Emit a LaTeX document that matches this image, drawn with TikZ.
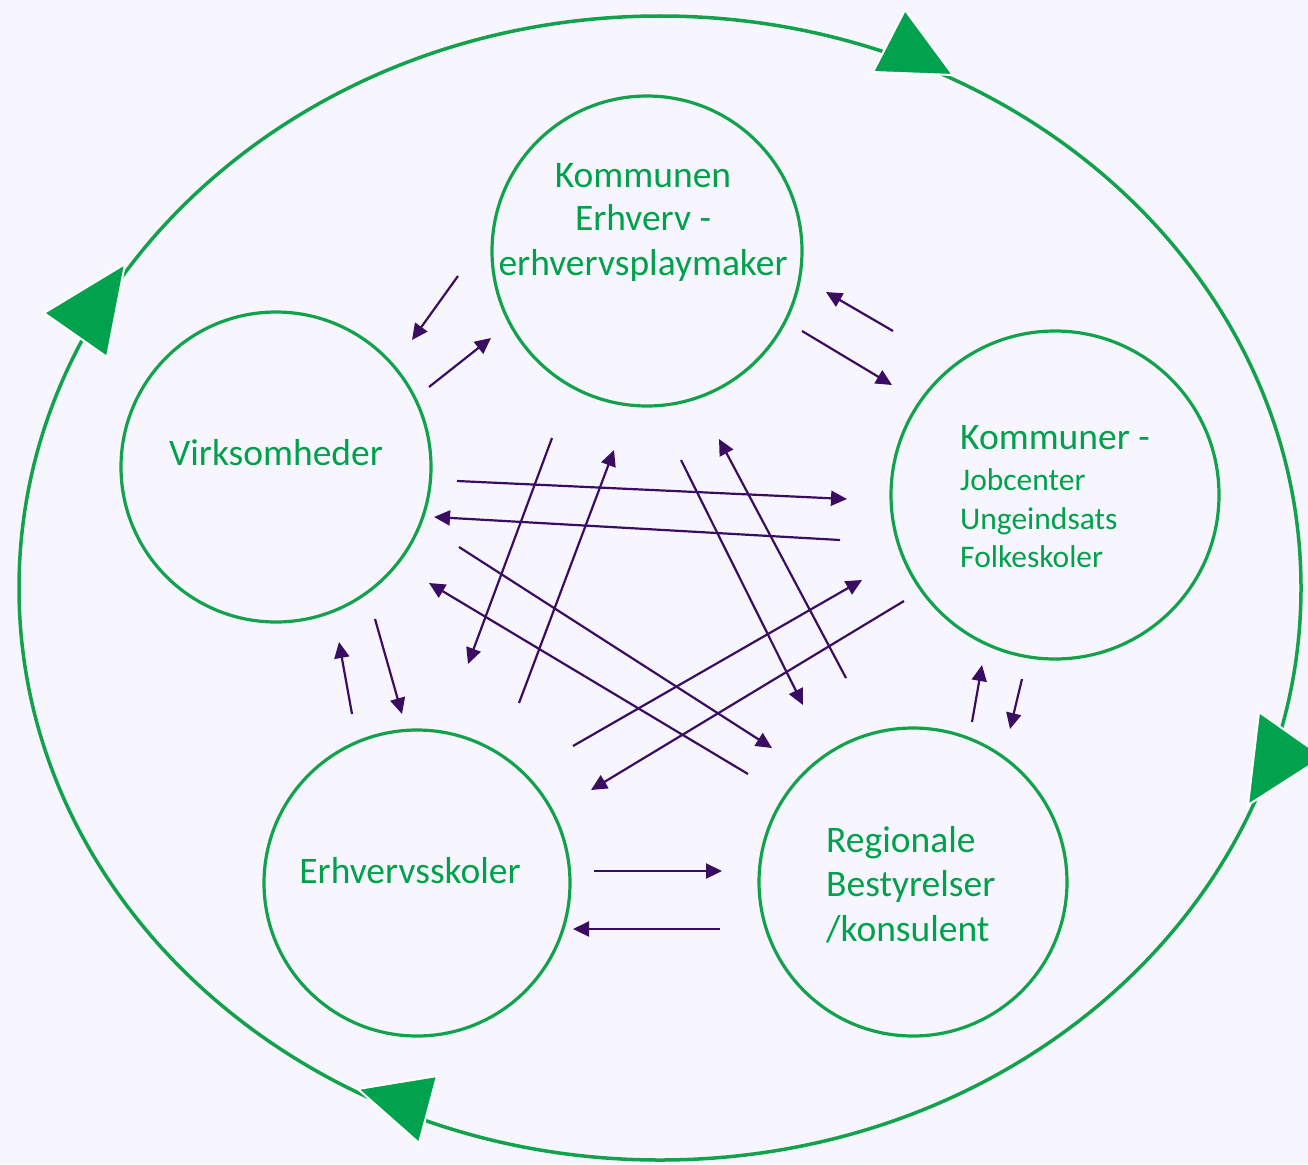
\documentclass[tikz,border=0pt]{standalone}
\usepackage{fontspec}
\setmainfont{Carlito}
\usetikzlibrary{arrows.meta}
\definecolor{bgc}{HTML}{F7F6FE}
\definecolor{grn}{HTML}{00A14B}
\definecolor{grnline}{HTML}{12A24C}
\definecolor{trig}{HTML}{00A24D}
\definecolor{purp}{HTML}{3A0C62}
\tikzset{
  ring/.style={draw=grnline, line width=3.2pt, circle, inner sep=0pt},
  lbl/.style={text=grn, inner sep=0pt, font=\fontsize{37.5}{44}\selectfont},
  lblsmall/.style={text=grn, inner sep=0pt, font=\fontsize{31.5}{38}\selectfont},
  flow/.style={draw=purp, line width=2.2pt, -{Triangle[length=16pt,width=15pt]}},
  bigtri/.style={fill=trig, draw=white, line width=2pt, line join=miter},
}
\begin{document}
\begin{tikzpicture}[x=1pt,y=-1pt]
\fill[bgc] (0,0) rectangle (1308,1164);
\useasboundingbox (0,0) rectangle (1308,1164);

% outer cycle
\draw[grnline, line width=3.5pt] (660,588) ellipse [x radius=641, y radius=572];
\filldraw[bigtri] (905,10) -- (873,72) -- (953,75) -- cycle;
\filldraw[bigtri] (125,264) -- (44,313) -- (107,357) -- cycle;
\filldraw[bigtri] (1259,712) -- (1323,757) -- (1248,805) -- cycle;
\filldraw[bigtri] (358,1089) -- (437,1076) -- (419,1143) -- cycle;

% circles
\node[ring, minimum size=310pt] (kom) at (647,251) {};
\node[ring, minimum size=310pt] (virk) at (276,467) {};
\node[ring, minimum size=328pt] (job) at (1055,495) {};
\node[ring, minimum size=306pt] (skol) at (417,883) {};
\node[ring, minimum size=308pt] (reg) at (913,882) {};

% texts
\node[lbl, anchor=base] (komA) at (643,187) {Kommunen};
\node[lbl, anchor=base] (komB) at (643,230) {Erhverv -};
\node[lbl, anchor=base] (komC) at (643,275) {erhvervsplaymaker};
\node[lbl, anchor=base] (virkT) at (276,465) {Virksomheder};
\node[lbl, anchor=base] (skolT) at (410,883) {Erhvervsskoler};
\node[lbl, anchor=base west] (regA) at (826,852) {Regionale};
\node[lbl, anchor=base west] (regB) at (826,896) {Bestyrelser};
\node[lbl, anchor=base west] (regC) at (826,941) {/konsulent};
\node[lbl, anchor=base west] (jobA) at (960,449) {Kommuner -};
\node[lblsmall, anchor=base west] (jobB) at (960,490) {Jobcenter};
\node[lblsmall, anchor=base west] (jobC) at (960,529) {Ungeindsats};
\node[lblsmall, anchor=base west] (jobD) at (960,567) {Folkeskoler};

% arrow end points
\coordinate (a1s) at (458,276);  \coordinate (a1e) at (412,340);
\coordinate (a2s) at (429,387);  \coordinate (a2e) at (491,338);
\coordinate (a3s) at (893,331);  \coordinate (a3e) at (826,292);
\coordinate (a4s) at (802,331);  \coordinate (a4e) at (892,385);
\coordinate (a5s) at (457,481);  \coordinate (a5e) at (847,499);
\coordinate (a6s) at (840,540);  \coordinate (a6e) at (434,517);
\coordinate (a7s) at (552,438);  \coordinate (a7e) at (468,664);
\coordinate (a8s) at (519,703);  \coordinate (a8e) at (614,450);
\coordinate (a9s) at (681,460);  \coordinate (a9e) at (803,705);
\coordinate (a10s) at (846,678); \coordinate (a10e) at (719,439);
\coordinate (a11s) at (459,547); \coordinate (a11e) at (772,748);
\coordinate (a12s) at (748,774); \coordinate (a12e) at (429,583);
\coordinate (a13s) at (573,746); \coordinate (a13e) at (862,580);
\coordinate (a14s) at (904,601); \coordinate (a14e) at (591,790);
\coordinate (a15s) at (375,619); \coordinate (a15e) at (402,714);
\coordinate (a16s) at (352,714); \coordinate (a16e) at (339,642);
\coordinate (a17s) at (972,722); \coordinate (a17e) at (982,665);
\coordinate (a18s) at (1022,679);\coordinate (a18e) at (1010,729);
\coordinate (a19s) at (594,871); \coordinate (a19e) at (722,871);
\coordinate (a20s) at (720,929); \coordinate (a20e) at (573,929);

\foreach \i in {1,...,20} {\draw[flow] (a\i s) -- (a\i e);}
\end{tikzpicture}
\end{document}
